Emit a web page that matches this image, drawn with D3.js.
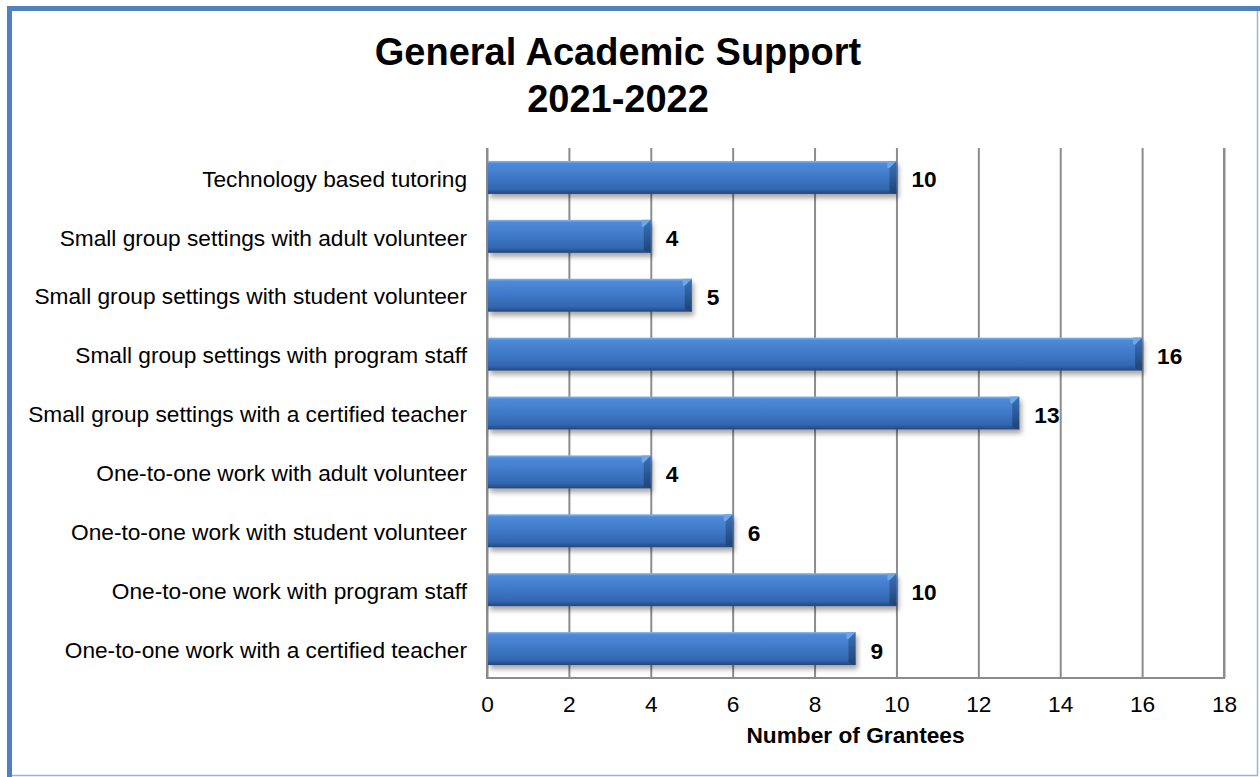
<!DOCTYPE html>
<html lang="en">
<head>
<meta charset="UTF-8">
<title>General Academic Support</title>
<script src="https://cdnjs.cloudflare.com/ajax/libs/d3/7.8.5/d3.min.js"></script>
<style>
  body { margin: 0; background: #fff; }
  text { font-family: Arial, "Liberation Sans", sans-serif; }
</style>
</head>
<body>
<script>
  // data
  var categories = [
    "Technology based tutoring",
    "Small group settings with adult volunteer",
    "Small group settings with student volunteer",
    "Small group settings with program staff",
    "Small group settings with a certified teacher",
    "One-to-one work with adult volunteer",
    "One-to-one work with student volunteer",
    "One-to-one work with program staff",
    "One-to-one work with a certified teacher"
  ];
  var grantees = [10, 4, 5, 16, 13, 4, 6, 10, 9];
  var xTicks = [0, 2, 4, 6, 8, 10, 12, 14, 16, 18];
  var titleLines = ["General Academic Support", "2021-2022"];

  var width = 1260, height = 777;
  var plotLeft = 487, plotRight = 1224, plotTop = 148, plotBottom = 678;
  var fontSize = "22.7px";

  var svg = d3.select("body").append("svg")
    .attr("width", width)
    .attr("height", height);

  var defs = svg.append("defs");
  var grad = defs.append("linearGradient").attr("id", "barGrad")
    .attr("x1", 0).attr("y1", 0).attr("x2", 0).attr("y2", 1);
  grad.append("stop").attr("offset", "0%").attr("stop-color", "#86b6ec");
  grad.append("stop").attr("offset", "8%").attr("stop-color", "#4f8ad8");
  grad.append("stop").attr("offset", "50%").attr("stop-color", "#3d78c7");
  grad.append("stop").attr("offset", "85%").attr("stop-color", "#3366b0");
  grad.append("stop").attr("offset", "100%").attr("stop-color", "#23467c");

  var endGrad = defs.append("linearGradient").attr("id", "endGrad")
    .attr("x1", 0).attr("y1", 0).attr("x2", 0).attr("y2", 1);
  endGrad.append("stop").attr("offset", "0%").attr("stop-color", "#3a72bb");
  endGrad.append("stop").attr("offset", "100%").attr("stop-color", "#1f4374");

  var shadow = defs.append("filter").attr("id", "shadow")
    .attr("x", "-5%").attr("y", "-20%").attr("width", "115%").attr("height", "160%");
  shadow.append("feDropShadow")
    .attr("dx", 2).attr("dy", 4).attr("stdDeviation", 2.5)
    .attr("flood-color", "#000").attr("flood-opacity", 0.35);

  // frame
  svg.append("rect").attr("x", 9.5).attr("y", 8.5)
    .attr("width", 1248).attr("height", 767)
    .attr("fill", "none").attr("stroke", "#9ab5da").attr("stroke-width", 1.5);
  svg.append("line").attr("x1", 9.5).attr("y1", 6).attr("x2", 9.5).attr("y2", 777)
    .attr("stroke", "#4f81bd").attr("stroke-width", 5);
  svg.append("line").attr("x1", 7).attr("y1", 8.5).attr("x2", 1260).attr("y2", 8.5)
    .attr("stroke", "#4f81bd").attr("stroke-width", 5);

  // title
  svg.append("text")
    .attr("x", 618).attr("y", 65)
    .attr("text-anchor", "middle")
    .style("font-size", "38px").style("font-weight", "bold")
    .selectAll("tspan").data(titleLines).enter().append("tspan")
    .attr("x", 618)
    .attr("dy", function (d, i) { return i === 0 ? 0 : 47; })
    .text(function (d) { return d; });

  var x = d3.scaleLinear().domain([0, 18]).range([plotLeft, plotRight]);
  var y = d3.scaleBand().domain(categories).range([plotTop, plotBottom])
    .paddingInner(0.44).paddingOuter(0.22);

  // gridlines
  svg.append("g")
    .attr("transform", "translate(0," + plotBottom + ")")
    .call(d3.axisBottom(x).tickValues(xTicks).tickSize(-(plotBottom - plotTop)).tickFormat(""))
    .call(function (g) { g.select(".domain").remove(); })
    .selectAll("line")
    .attr("stroke", "#8c8c8c").attr("stroke-width", 2);

  // plot border: left, bottom, right
  svg.append("path")
    .attr("d", "M" + plotLeft + "," + plotTop + "V" + plotBottom + "H" + plotRight + "V" + plotTop)
    .attr("fill", "none").attr("stroke", "#8c8c8c").attr("stroke-width", 2);

  // tick labels
  var xAxis = svg.append("g")
    .attr("transform", "translate(0," + plotBottom + ")")
    .call(d3.axisBottom(x).tickValues(xTicks).tickSize(0).tickPadding(18));
  xAxis.select(".domain").remove();
  xAxis.selectAll("text")
    .style("font-size", fontSize).attr("fill", "#000")
    .style("font-family", "Arial, 'Liberation Sans', sans-serif");

  // category labels
  var yAxis = svg.append("g")
    .attr("transform", "translate(" + plotLeft + ",2)")
    .call(d3.axisLeft(y).tickSize(0).tickPadding(20));
  yAxis.select(".domain").remove();
  yAxis.selectAll("text")
    .style("font-size", fontSize).attr("fill", "#000")
    .style("font-family", "Arial, 'Liberation Sans', sans-serif");

  // bars
  var bars = svg.append("g").selectAll("g.bar")
    .data(grantees).enter().append("g").attr("class", "bar")
    .attr("filter", "url(#shadow)");

  bars.append("rect")
    .attr("x", x(0) + 1)
    .attr("y", function (d, i) { return y(categories[i]); })
    .attr("width", function (d) { return x(d) - x(0) - 1; })
    .attr("height", y.bandwidth())
    .attr("fill", "url(#barGrad)");

  var bev = 7;
  // right-end bevel
  bars.append("path")
    .attr("d", function (d, i) {
      var x1 = x(d), y0 = y(categories[i]), y1 = y0 + y.bandwidth();
      return "M" + (x1 - bev) + "," + (y0 + bev) + "L" + x1 + "," + y0 +
        "V" + y1 + "L" + (x1 - bev) + "," + (y1 - 2) + "Z";
    })
    .attr("fill", "url(#endGrad)");
  bars.append("path")
    .attr("d", function (d, i) {
      var x1 = x(d), y0 = y(categories[i]);
      return "M" + (x1 - bev - 2) + "," + y0 + "H" + x1 + "L" + (x1 - bev) + "," + (y0 + bev) +
        "H" + (x1 - bev - 2) + "Z";
    })
    .attr("fill", "#6fa6e4");

  // value labels
  svg.append("g").selectAll("text")
    .data(grantees).enter().append("text")
    .attr("x", function (d) { return x(d) + 15; })
    .attr("y", function (d, i) { return y(categories[i]) + y.bandwidth() / 2 + 10; })
    .style("font-size", fontSize).style("font-weight", "bold")
    .text(function (d) { return d; });

  // axis title
  svg.append("text")
    .attr("x", (plotLeft + plotRight) / 2).attr("y", 743)
    .attr("text-anchor", "middle")
    .style("font-size", fontSize).style("font-weight", "bold")
    .text("Number of Grantees");
</script>
</body>
</html>
